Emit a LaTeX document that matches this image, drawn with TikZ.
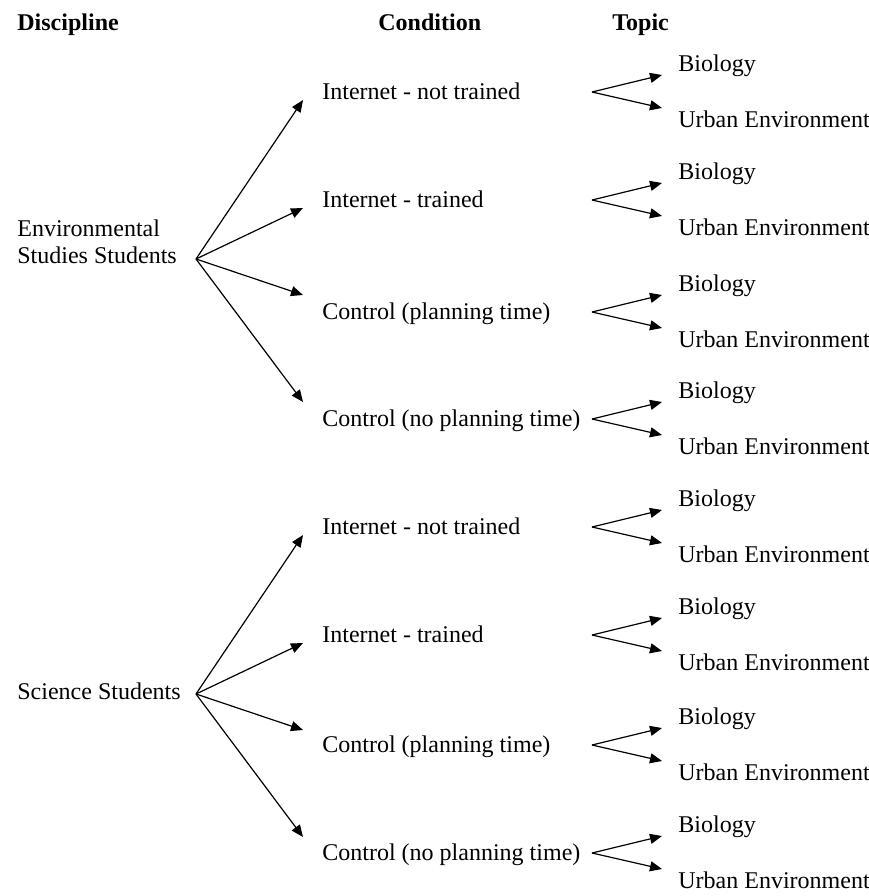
\documentclass[tikz,border=0pt]{standalone}
\usepackage{fontspec}
\setmainfont{Liberation Serif}
\usetikzlibrary{positioning,arrows.meta,calc}
\tikzset{
  hdr/.style={anchor=base west,inner sep=0pt,font=\fontsize{12}{13.5}\selectfont\bfseries},
  lbl/.style={anchor=base west,inner sep=0pt,font=\fontsize{12}{13.5}\selectfont,align=left},
  flow/.style={-{Triangle[length=6pt,width=5pt]},line width=0.6pt},
}
\begin{document}
\begin{tikzpicture}[x=0.5pt,y=-0.5pt]
  \useasboundingbox (0,0) rectangle (869,896);
  % column heads
  \node[hdr] (hdisc) at (17,30) {Discipline};
  \node[hdr] (hcond) at (378,30) {Condition};
  \node[hdr] (htopic) at (612,30) {Topic};
  % disciplines
  \node[lbl] (env) at (17,263) {Environmental\\Studies Students};
  \coordinate (envfork) at (196,259);
  \node[lbl] (sci) at (17,699) {Science Students};
  \coordinate (scifork) at (196,694);
  % conditions and topics
  \foreach \i/\y/\txt in {1/92/Internet - not trained,2/200/Internet - trained,
      3/312/Control (planning time),4/419/Control (no planning time),
      5/527/Internet - not trained,6/635/Internet - trained,
      7/745/Control (planning time),8/853/Control (no planning time)} {
    \node[lbl] (cond\i) at (322,\y+7) {\txt};
    \coordinate (fork\i) at (592,\y);
    \node[lbl] (bio\i) at (678,\y-21) {Biology};
    \node[lbl] (urban\i) at (678,\y+35) {Urban Environment};
    \coordinate (tbio\i) at (662,\y-17);
    \coordinate (turban\i) at (662,\y+16);
    \draw[flow] (fork\i) -- (tbio\i);
    \draw[flow] (fork\i) -- (turban\i);
  }
  \foreach \i/\dy in {1/-159,2/-51,3/36,4/143} {
    \coordinate (tcond\i) at ($(envfork)+(107,\dy)$);
    \draw[flow] (envfork) -- (tcond\i);
  }
  \foreach \i/\dy in {5/-159,6/-51,7/36,8/143} {
    \coordinate (tcond\i) at ($(scifork)+(107,\dy)$);
    \draw[flow] (scifork) -- (tcond\i);
  }
\end{tikzpicture}
\end{document}
